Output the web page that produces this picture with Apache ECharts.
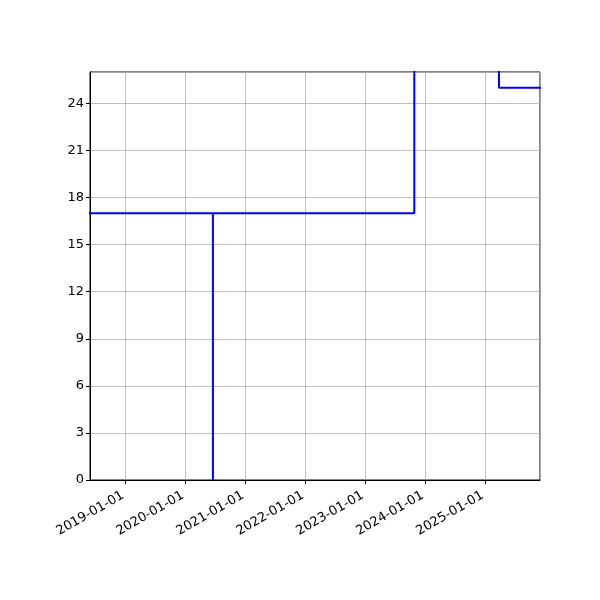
<!DOCTYPE html>
<html lang="en">
<head>
  <meta charset="UTF-8">
  <title>Step chart</title>
  <script src="https://cdn.jsdelivr.net/npm/echarts@6/dist/echarts.min.js"></script>
  <style>
    html, body { margin: 0; padding: 0; background: #fff; }
  </style>
</head>
<body>
  <div id="main" style="width: 600px;height:600px;"></div>
  <script>
    // path of the blue line, in drawing order (points above the top get clipped)
    var pathDates = ['2018-01-01', '2020-06-16', '2020-06-16', '2020-06-16', '2023-10-26', '2023-10-26', '2025-03-25', '2025-03-25', '2026-06-01']
    var pathValues = [17, 17, 0, 17, 17, 40, 40, 25, 25]

    var xMin = '2018-05-29'
    var xMax = '2025-11-30'
    var yTicks = [0, 3, 6, 9, 12, 15, 18, 21, 24]

    var font = 'DejaVu Sans'
    var mCharts = echarts.init(document.getElementById('main'))

    var points = pathDates.map(function (d, i) { return [d, pathValues[i]] })

    var option = {
      animation: false,
      grid: {
        left: 90, right: 60, top: 72, bottom: 120,
        show: true, borderColor: '#000', borderWidth: 1, backgroundColor: 'transparent'
      },
      xAxis: {
        type: 'time',
        min: xMin,
        max: xMax,
        minInterval: 365 * 24 * 3600 * 1000,
        maxInterval: 366 * 24 * 3600 * 1000,
        axisLine: { show: true, lineStyle: { color: '#000', width: 1 } },
        axisTick: { show: true, length: 4, lineStyle: { color: '#000' } },
        splitLine: { show: true, lineStyle: { color: '#b0b0b0', width: 0.8 } },
        minorTick: { show: false },
        axisLabel: {
          formatter: '{yyyy}-{MM}-{dd}',
          rotate: 30,
          color: '#000',
          fontFamily: font,
          fontSize: 13,
          margin: 13,
          padding: [0, 3, 0, 0],
          showMinLabel: false,
          showMaxLabel: false
        }
      },
      yAxis: {
        type: 'value',
        min: 0,
        max: 26,
        interval: 3,
        axisLine: { show: true, lineStyle: { color: '#000', width: 1 } },
        axisTick: { show: true, length: 4, lineStyle: { color: '#000' } },
        splitLine: { show: true, lineStyle: { color: '#b0b0b0', width: 0.8 } },
        axisLabel: {
          color: '#000',
          fontFamily: font,
          fontSize: 13,
          margin: 6,
          showMaxLabel: false,
          formatter: function (v) { return yTicks.indexOf(v) >= 0 ? String(v) : '' }
        }
      },
      series: [{
        type: 'line',
        data: points,
        showSymbol: false,
        clip: true,
        lineStyle: { color: '#0000ff', width: 2 }
      }]
    }
    mCharts.setOption(option)
  </script>
</body>
</html>
